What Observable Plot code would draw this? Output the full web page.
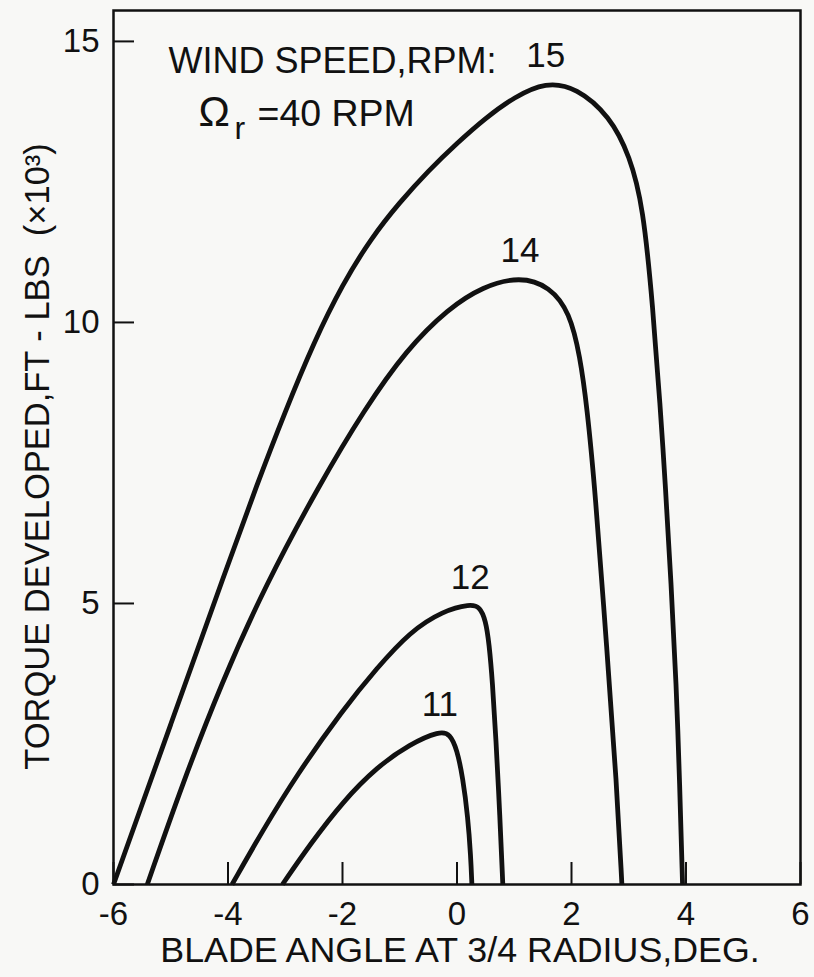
<!DOCTYPE html>
<html>
<head>
<meta charset="utf-8">
<script src="https://cdn.jsdelivr.net/npm/d3@7"></script>
<script src="https://cdn.jsdelivr.net/npm/@observablehq/plot@0.6"></script>
<style>
  html, body { margin: 0; padding: 0; background: #f8f8f6; }
  #chart svg { display: block; }
</style>
</head>
<body>
<div id="chart"></div>
<script>
// Wind speeds (curve labels)
const speeds = [15, 14, 12, 11];

// Blade angle at 3/4 radius (deg) and torque (ft-lbs x10^3) for each wind speed
const angle15  = [-6, -5, -4, -3.5, -3, -2.5, -2, -1.5, -1, -0.5, 0, 0.5, 1, 1.55, 2.09, 2.67, 3.02, 3.25, 3.42, 3.55, 3.64, 3.74, 3.83, 3.89, 3.94];
const torque15 = [0, 2.85, 5.7, 7.1, 8.42, 9.65, 10.68, 11.5, 12.14, 12.7, 13.19, 13.64, 14.01, 14.28, 14.18, 13.67, 12.96, 12.07, 10.29, 8.5, 7.1, 5.35, 3.57, 1.78, 0];

const angle14  = [-5.41, -4.8, -4.12, -3.35, -2.4, -1.62, -0.88, -0.15, 0.45, 1.1, 1.62, 1.97, 2.15, 2.27, 2.41, 2.62, 2.79, 2.88];
const torque14 = [0, 1.78, 3.57, 5.32, 7.12, 8.45, 9.52, 10.25, 10.64, 10.82, 10.64, 10.18, 9.39, 8.5, 7.05, 4.15, 1.78, 0];

const angle12  = [-3.93, -3.4, -2.8, -2.0, -1.4, -0.82, -0.24, 0.23, 0.4, 0.5, 0.56, 0.62, 0.68, 0.75, 0.8];
const torque12 = [0, 0.95, 1.95, 3.1, 3.85, 4.5, 4.87, 4.99, 4.94, 4.7, 4.3, 3.6, 2.6, 1.2, 0];

const angle11  = [-3.05, -2.57, -1.99, -1.4, -0.82, -0.3, -0.12, 0.0, 0.1, 0.19, 0.24, 0.26];
const torque11 = [0, 0.71, 1.48, 2.09, 2.5, 2.73, 2.68, 2.4, 1.91, 1.2, 0.5, 0];

// Axis ticks
const xTicks = [-6, -4, -2, 0, 2, 4, 6];
const yTicks = [0, 5, 10, 15];

// Texts
const xTitle = "BLADE ANGLE AT 3/4 RADIUS,DEG.";
const yTitle = "TORQUE DEVELOPED,FT - LBS  (×10³)";
const legendTitle = "WIND SPEED,RPM:";
const omegaSymbol = "Ω";
const omegaSub = "r";
const omegaValue = "=40 RPM";

const curves = [
  [speeds[0], angle15, torque15],
  [speeds[1], angle14, torque14],
  [speeds[2], angle12, torque12],
  [speeds[3], angle11, torque11]
];
const data = curves.flatMap(([s, xs, ys]) => xs.map((a, i) => ({speed: s, angle: a, torque: ys[i]})));

const ink = "#111";
const font = "'Liberation Sans', Arial, sans-serif";

const chart = Plot.plot({
  width: 814,
  height: 977,
  marginLeft: 113,
  marginRight: 14,
  marginTop: 10,
  marginBottom: 93,
  x: {domain: [-6, 6], label: null},
  y: {domain: [0, 15.55], label: null},
  style: {fontFamily: font, fontSize: "33px", color: ink, background: "transparent", overflow: "visible"},
  marks: [
    Plot.frame({stroke: ink, strokeWidth: 2.5}),
    // inward ticks
    Plot.axisX(xTicks, {tickSize: -22, fill: "none", stroke: ink, strokeWidth: 2, label: null}),
    Plot.axisY(yTicks, {tickSize: -21, fill: "none", stroke: ink, strokeWidth: 2, label: null}),
    // tick labels
    Plot.axisX(xTicks, {tickSize: 0, tickPadding: 17, tickFormat: d => String(d), fontSize: 33, fill: ink, label: null}),
    Plot.axisY(yTicks, {tickSize: 0, tickPadding: 14, tickFormat: d => String(d), fontSize: 33, fill: ink, label: null}),
    // curves
    Plot.line(data, {x: "angle", y: "torque", z: "speed", curve: "basis", stroke: ink, strokeWidth: 4.8, strokeLinejoin: "round", strokeLinecap: "butt"}),
    // curve labels at each curve's peak
    Plot.text(data, Plot.selectMaxY({x: "angle", y: "torque", z: "speed", text: d => String(d.speed), dy: -26, fontSize: 35, fill: ink})),
    // annotation
    Plot.text([legendTitle], {frameAnchor: "top-left", textAnchor: "start", lineAnchor: "bottom", dx: 55, dy: 62, fontSize: 36, fill: ink}),
    Plot.text([omegaSymbol], {frameAnchor: "top-left", textAnchor: "start", lineAnchor: "bottom", dx: 85, dy: 115, fontSize: 42, fill: ink}),
    Plot.text([omegaSub], {frameAnchor: "top-left", textAnchor: "start", lineAnchor: "bottom", dx: 121, dy: 128, fontSize: 32, fill: ink}),
    Plot.text([omegaValue], {frameAnchor: "top-left", textAnchor: "start", lineAnchor: "bottom", dx: 144, dy: 115, fontSize: 37.5, fill: ink}),
    // axis titles
    Plot.text([xTitle], {frameAnchor: "bottom", textAnchor: "middle", lineAnchor: "middle", dx: 3, dy: 66, fontSize: 35.8, fill: ink}),
    Plot.text([yTitle], {frameAnchor: "left", textAnchor: "middle", rotate: -90, lineAnchor: "middle", dx: -76, dy: 9, fontSize: 34.5, fill: ink})
  ]
});

document.getElementById("chart").appendChild(chart);
</script>
</body>
</html>
